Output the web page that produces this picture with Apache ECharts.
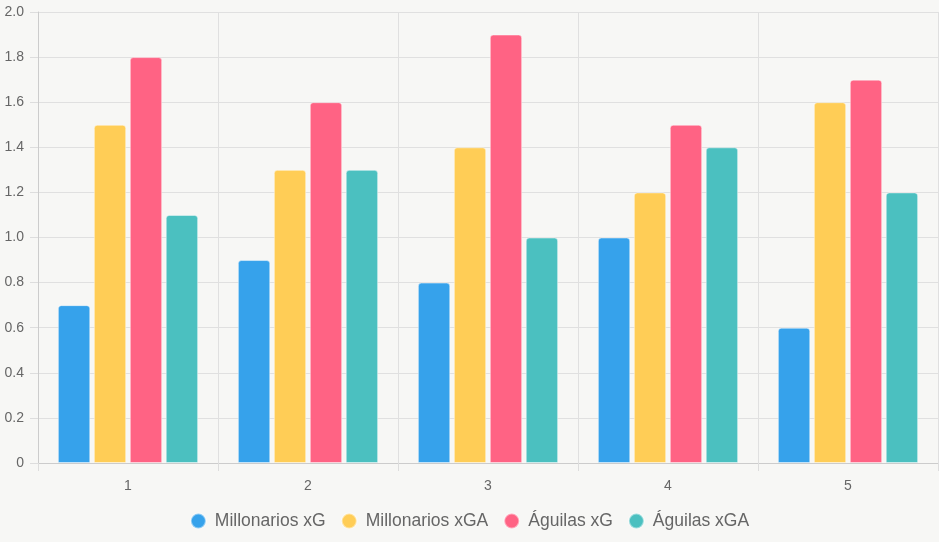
<!DOCTYPE html>
<html style="height: 100%">
<head>
    <meta charset="utf-8">
    <script src="https://cdn.jsdelivr.net/npm/echarts@6/dist/echarts.min.js"></script>
</head>
<body style="height: 100%; margin: 0; background: #f7f7f5">
<div id="container" style="width: 939px; height: 542px"></div>
<script type="text/javascript">
    var categories = ['1', '2', '3', '4', '5'];
    var millonariosXG = [0.7, 0.9, 0.8, 1.0, 0.6];
    var millonariosXGA = [1.5, 1.3, 1.4, 1.2, 1.6];
    var aguilasXG = [1.8, 1.6, 1.9, 1.5, 1.7];
    var aguilasXGA = [1.1, 1.3, 1.0, 1.4, 1.2];

    var myChart = echarts.init(document.getElementById('container'));

    function bar(name, data, color) {
        return {
            name: name,
            type: 'bar',
            data: data,
            barWidth: 32.4,
            barGap: '11%',
            itemStyle: {
                color: color,
                borderRadius: [3, 3, 0, 0],
                borderColor: 'rgba(255,255,255,0.45)',
                borderWidth: 1
            }
        };
    }

    var option = {
        backgroundColor: '#f7f7f5',
        textStyle: {fontFamily: 'Liberation Sans, Arial, sans-serif'},
        grid: {left: 38, right: 1, top: 12, bottom: 79},
        legend: {
            top: 507,
            icon: 'circle',
            itemWidth: 15,
            itemHeight: 15,
            itemGap: 15,
            textStyle: {color: '#666', fontSize: 17.5, padding: [0, 0, 0, 4]}
        },
        xAxis: {
            type: 'category',
            data: categories,
            axisLine: {lineStyle: {color: '#ccc'}},
            axisTick: {show: true, length: 8, lineStyle: {color: '#ddd'}},
            axisLabel: {color: '#666', fontSize: 14, margin: 16},
            splitLine: {show: true, lineStyle: {color: '#e0e0e0'}}
        },
        yAxis: {
            type: 'value',
            min: 0,
            max: 2,
            interval: 0.2,
            axisLine: {show: true, lineStyle: {color: '#ccc'}},
            axisTick: {show: true, length: 8, lineStyle: {color: '#ddd'}},
            axisLabel: {
                color: '#666', fontSize: 14, margin: 14,
                formatter: function (v) { return v === 0 ? '0' : v.toFixed(1); }
            },
            splitLine: {lineStyle: {color: '#e0e0e0'}}
        },
        series: [
            bar('Millonarios xG', millonariosXG, '#36a2eb'),
            bar('Millonarios xGA', millonariosXGA, '#ffcd56'),
            bar('Águilas xG', aguilasXG, '#ff6384'),
            bar('Águilas xGA', aguilasXGA, '#4bc0c0')
        ]
    };

    myChart.setOption(option, true);
</script>
</body>
</html>
